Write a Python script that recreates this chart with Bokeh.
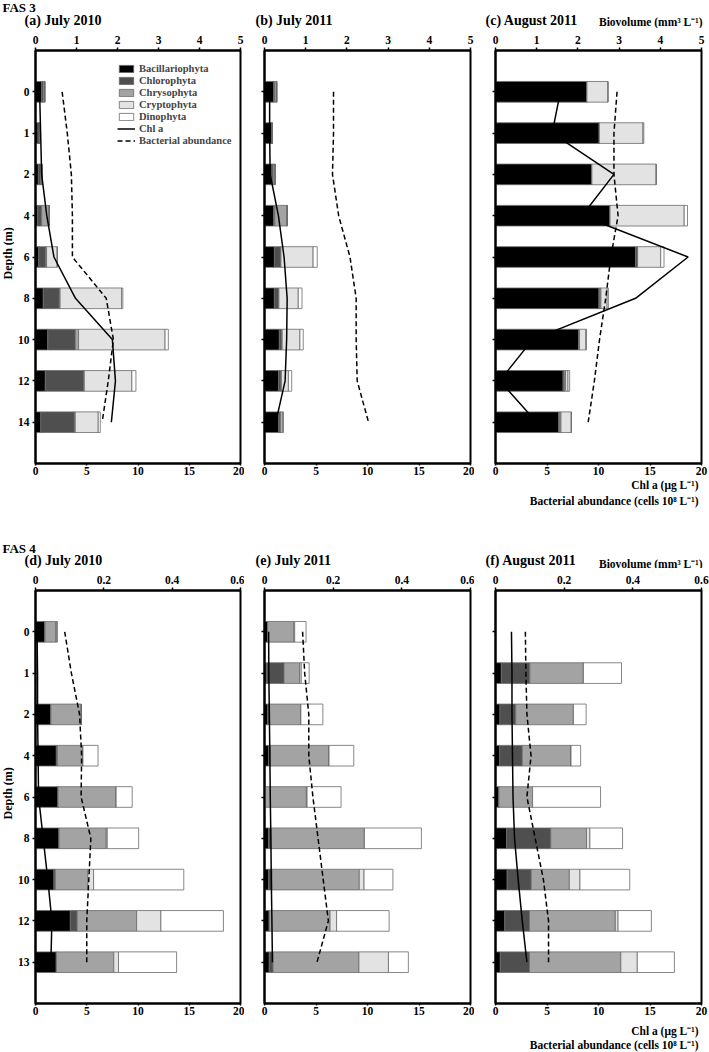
from bokeh.plotting import figure
from bokeh.models import (Range1d, LinearAxis, FixedTicker, ColumnDataSource,
                          Legend, LegendItem, Label)
from bokeh.layouts import column, row
from bokeh.embed import file_html
from bokeh.resources import INLINE
import math

FONT = "Liberation Serif"
GROUPS = ["Bacillariophyta", "Chlorophyta", "Chrysophyta", "Cryptophyta", "Dinophyta"]
COLORS = ["#000000", "#4f4f4f", "#a3a3a3", "#e3e3e3", "#ffffff"]

FAS3_DEPTHS = ["0", "1", "2", "4", "6", "8", "10", "12", "14"]
FAS4_DEPTHS = ["0", "1", "2", "4", "6", "8", "10", "12", "13"]

# ---- FAS 3, (a) July 2010 : biovolume (mm3 L-1)
a_bac = [0.15, 0.06, 0.07, 0.05, 0.08, 0.19, 0.30, 0.24, 0.13]
a_chl = [0.04, 0.04, 0.06, 0.10, 0.17, 0.39, 0.67, 0.94, 0.82]
a_chr = [0.03, 0.00, 0.03, 0.18, 0.02, 0.02, 0.08, 0.01, 0.02]
a_cry = [0.01, 0.00, 0.00, 0.01, 0.26, 1.50, 2.11, 1.16, 0.56]
a_din = [0.00, 0.00, 0.00, 0.00, 0.00, 0.03, 0.08, 0.10, 0.05]
a_chla = [0.4, 0.5, 0.6, 1.1, 1.8, 3.9, 7.5, 7.8, 7.4]
a_bact = [2.6, 3.1, 3.5, 3.6, 3.6, 6.9, 7.6, 7.1, 6.5]

# ---- FAS 3, (b) July 2011
b_bac = [0.22, 0.17, 0.18, 0.22, 0.24, 0.24, 0.36, 0.34, 0.34]
b_chl = [0.03, 0.02, 0.03, 0.03, 0.15, 0.10, 0.06, 0.06, 0.04]
b_chr = [0.04, 0.00, 0.04, 0.30, 0.01, 0.01, 0.01, 0.01, 0.02]
b_cry = [0.01, 0.00, 0.01, 0.00, 0.78, 0.47, 0.43, 0.17, 0.04]
b_din = [0.00, 0.00, 0.00, 0.00, 0.10, 0.09, 0.08, 0.08, 0.02]
b_chla = [0.5, 0.5, 0.55, 1.35, 1.9, 2.2, 2.15, 2.0, 1.1]
b_bact = [6.7, 6.7, 6.6, 7.2, 8.3, 8.9, 8.9, 9.0, 10.1]

# ---- FAS 3, (c) August 2011
c_bac = [2.22, 2.52, 2.34, 2.78, 3.40, 2.51, 2.02, 1.64, 1.53]
c_chl = [0.00, 0.00, 0.00, 0.00, 0.05, 0.02, 0.00, 0.03, 0.02]
c_chr = [0.00, 0.00, 0.00, 0.00, 0.00, 0.03, 0.02, 0.03, 0.04]
c_cry = [0.51, 1.06, 1.56, 1.80, 0.56, 0.15, 0.15, 0.06, 0.25]
c_din = [0.00, 0.02, 0.00, 0.08, 0.08, 0.03, 0.02, 0.04, 0.00]
c_chla = [6.3, 5.5, 11.5, 8.4, 18.7, 13.6, 3.6, 0.4, 4.0]
c_bact = [11.8, 11.5, 11.5, 11.9, 11.2, 10.7, 10.1, 9.6, 9.0]

# ---- FAS 4, (d) July 2010
d_bac = [0.027, 0.001, 0.045, 0.061, 0.066, 0.069, 0.054, 0.102, 0.061]
d_chl = [0.001, 0.000, 0.000, 0.003, 0.000, 0.000, 0.004, 0.020, 0.000]
d_chr = [0.031, 0.000, 0.089, 0.075, 0.170, 0.138, 0.095, 0.174, 0.168]
d_cry = [0.004, 0.000, 0.000, 0.000, 0.000, 0.003, 0.017, 0.071, 0.014]
d_din = [0.000, 0.000, 0.000, 0.044, 0.047, 0.092, 0.264, 0.183, 0.170]
d_chla = [0.15, 0.2, 0.2, 0.25, 0.3, 0.75, 1.2, 1.6, 1.5]
d_bact = [2.85, 3.5, 4.3, 4.5, 4.45, 5.4, 5.2, 5.0, 5.0]

# ---- FAS 4, (e) July 2011
e_bac = [0.009, 0.005, 0.009, 0.012, 0.002, 0.012, 0.012, 0.014, 0.014]
e_chl = [0.000, 0.052, 0.006, 0.005, 0.000, 0.007, 0.010, 0.000, 0.011]
e_chr = [0.076, 0.045, 0.091, 0.171, 0.120, 0.272, 0.254, 0.177, 0.250]
e_cry = [0.003, 0.005, 0.000, 0.000, 0.002, 0.000, 0.014, 0.019, 0.086]
e_din = [0.033, 0.023, 0.064, 0.072, 0.099, 0.166, 0.084, 0.153, 0.058]
e_chla = [0.4, 0.42, 0.47, 0.52, 0.56, 0.62, 0.66, 0.72, 0.77]
e_bact = [3.7, 3.9, 4.3, 4.3, 4.7, 5.2, 5.7, 6.2, 5.1]

# ---- FAS 4, (f) August 2011
f_bac = [0.000, 0.017, 0.013, 0.012, 0.010, 0.032, 0.034, 0.027, 0.014]
f_chl = [0.000, 0.083, 0.046, 0.066, 0.000, 0.129, 0.070, 0.072, 0.085]
f_chr = [0.000, 0.156, 0.168, 0.142, 0.098, 0.104, 0.111, 0.250, 0.266]
f_cry = [0.000, 0.000, 0.000, 0.000, 0.000, 0.010, 0.031, 0.008, 0.048]
f_din = [0.000, 0.111, 0.037, 0.028, 0.198, 0.095, 0.145, 0.097, 0.108]
f_chla = [1.55, 1.6, 1.6, 1.65, 1.7, 1.85, 2.2, 2.6, 3.05]
f_bact = [2.9, 2.95, 3.05, 3.45, 3.05, 3.85, 4.65, 5.15, 5.15]

FAS3_BIO_TICKS = [0, 1, 2, 3, 4, 5]
FAS4_BIO_TICKS = [0, 0.2, 0.4, 0.6]
BOTTOM_TICKS = [0, 5, 10, 15, 20]

BIO_LABEL = "Biovolume (mm³ L⁻¹)"
CHL_LABEL = "Chl a (μg L⁻¹)"
BACT_LABEL = "Bacterial abundance (cells 10⁸ L⁻¹)"


def style_axis(ax):
    ax.axis_line_width = 2
    ax.axis_line_color = "black"
    ax.major_tick_out = 3
    ax.major_tick_in = 0
    ax.minor_tick_out = 0
    ax.minor_tick_in = 0
    ax.major_tick_line_width = 1.5
    ax.major_label_standoff = 2
    ax.major_label_text_font = FONT
    ax.major_label_text_font_style = "bold"
    ax.major_label_text_font_size = "11.5px"
    ax.major_label_text_color = "black"


def text_fig(W, H, items):
    """A blank strip whose frame is the whole canvas; texts placed in pixels."""
    p = figure(width=W, height=H, x_range=Range1d(0, W), y_range=Range1d(H, 0),
               output_backend="svg", toolbar_location=None, title=None,
               x_axis_location=None, y_axis_location=None,
               min_border_left=0, min_border_right=0, min_border_top=0, min_border_bottom=0)
    p.outline_line_color = None
    p.xgrid.visible = False
    p.ygrid.visible = False
    for (x, y, text, size, align, angle) in items:
        p.add_layout(Label(x=x, y=y, text=text, text_font=FONT, text_font_style="bold",
                           text_font_size=size, text_align=align, text_baseline="middle",
                           angle=angle, text_color="black"))
    return p


def panel(depths, vals, chla, bact, bio_max, bio_ticks, W, left, right, H, top, bottom,
          show_depth=False, legend=False):
    p = figure(width=W, height=H, x_range=Range1d(0, 20), y_range=Range1d(9, -1),
               output_backend="svg", toolbar_location=None, title=None,
               min_border_left=left, min_border_right=right,
               min_border_top=top, min_border_bottom=bottom)
    p.extra_x_ranges = {"bio": Range1d(0, bio_max)}
    p.xgrid.visible = False
    p.ygrid.visible = False
    p.outline_line_color = "black"
    p.outline_line_width = 2

    idx = list(range(len(depths)))
    data = {"idx": idx}
    for g, v in zip(GROUPS, vals):
        data[g] = v
    src = ColumnDataSource(data)
    bars = p.hbar_stack(GROUPS, y="idx", height=0.5, source=src, x_range_name="bio",
                        fill_color=COLORS, line_color="#6a6a6a", line_width=0.8)
    r_chl = p.line(x=chla, y=idx, line_color="black", line_width=1.5)
    r_bac = p.line(x=bact, y=idx, line_color="black", line_width=1.5, line_dash="5 3")

    bx = p.xaxis[0]
    bx.ticker = FixedTicker(ticks=BOTTOM_TICKS)
    style_axis(bx)
    bx.major_tick_out = 2
    bx.major_label_standoff = 1

    tx = LinearAxis(x_range_name="bio", ticker=FixedTicker(ticks=bio_ticks))
    tx.major_label_overrides = {t: ("0" if t == 0 else str(t)) for t in bio_ticks}
    style_axis(tx)
    tx.major_label_standoff = 4
    p.add_layout(tx, "above")

    ly = p.yaxis[0]
    ly.ticker = FixedTicker(ticks=idx)
    if show_depth:
        ly.major_label_overrides = {i: d for i, d in enumerate(depths)}
    else:
        ly.major_label_overrides = {i: "" for i in idx}
    style_axis(ly)
    ly.major_label_standoff = 3

    if legend:
        items = [LegendItem(label=g, renderers=[r]) for g, r in zip(GROUPS, bars)]
        items.append(LegendItem(label="Chl a", renderers=[r_chl]))
        items.append(LegendItem(label="Bacterial abundance", renderers=[r_bac]))
        lg = Legend(items=items, location=(82, 317), padding=0, margin=0, spacing=1,
                    glyph_width=18, glyph_height=9, label_height=10, label_standoff=4,
                    label_text_font=FONT, label_text_font_style="bold",
                    label_text_font_size="10.5px", border_line_color=None,
                    background_fill_alpha=0)
        p.add_layout(lg)
    return p


PH, PT, PB = 452, 22, 17   # panel figure height, top/bottom borders (frame = 413)
HH = 28                    # header strip height

# ---------------- FAS 3 ----------------
head1 = text_fig(709, HH, [
    (2, 7, "FAS 3", "13px", "left", 0),
    (24, 20, "(a) July 2010", "14px", "left", 0),
    (255, 20, "(b) July 2011", "14px", "left", 0),
    (485, 20, "(c) August 2011", "14px", "left", 0),
    (702, 21, BIO_LABEL, "11.5px", "right", 0),
])
depth1 = text_fig(14, PH, [(7, 222, "Depth (m)", "12px", "center", math.pi / 2)])
pa = panel(FAS3_DEPTHS, [a_bac, a_chl, a_chr, a_cry, a_din], a_chla, a_bact, 5,
           FAS3_BIO_TICKS, 230, 20, 4, PH, PT, PB, show_depth=True, legend=True)
pb = panel(FAS3_DEPTHS, [b_bac, b_chl, b_chr, b_cry, b_din], b_chla, b_bact, 5,
           FAS3_BIO_TICKS, 230, 20, 4, PH, PT, PB)
pc = panel(FAS3_DEPTHS, [c_bac, c_chl, c_chr, c_cry, c_din], c_chla, c_bact, 5,
           FAS3_BIO_TICKS, 235, 21, 8, PH, PT, PB)
foot1 = text_fig(709, 60, [
    (698, 4, CHL_LABEL, "11.5px", "right", 0),
    (698, 20, BACT_LABEL, "11.5px", "right", 0),
])

# ---------------- FAS 4 ----------------
head2 = text_fig(709, HH, [
    (2, 8, "FAS 4", "13px", "left", 0),
    (24, 20, "(d) July 2010", "14px", "left", 0),
    (255, 20, "(e) July 2011", "14px", "left", 0),
    (485, 20, "(f) August 2011", "14px", "left", 0),
    (702, 23, BIO_LABEL, "11.5px", "right", 0),
])
depth2 = text_fig(14, PH, [(7, 222, "Depth (m)", "12px", "center", math.pi / 2)])
pd = panel(FAS4_DEPTHS, [d_bac, d_chl, d_chr, d_cry, d_din], d_chla, d_bact, 0.6,
           FAS4_BIO_TICKS, 230, 20, 4, PH, PT, PB, show_depth=True)
pe = panel(FAS4_DEPTHS, [e_bac, e_chl, e_chr, e_cry, e_din], e_chla, e_bact, 0.6,
           FAS4_BIO_TICKS, 230, 20, 4, PH, PT, PB)
pf = panel(FAS4_DEPTHS, [f_bac, f_chl, f_chr, f_cry, f_din], f_chla, f_bact, 0.6,
           FAS4_BIO_TICKS, 235, 21, 8, PH, PT, PB)
foot2 = text_fig(709, 32, [
    (698, 10, CHL_LABEL, "11.5px", "right", 0),
    (698, 24, BACT_LABEL, "11.5px", "right", 0),
])

layout = column(head1, row(depth1, pa, pb, pc), foot1,
                head2, row(depth2, pd, pe, pf), foot2)
open("out.html", "w").write(file_html(layout, INLINE))
